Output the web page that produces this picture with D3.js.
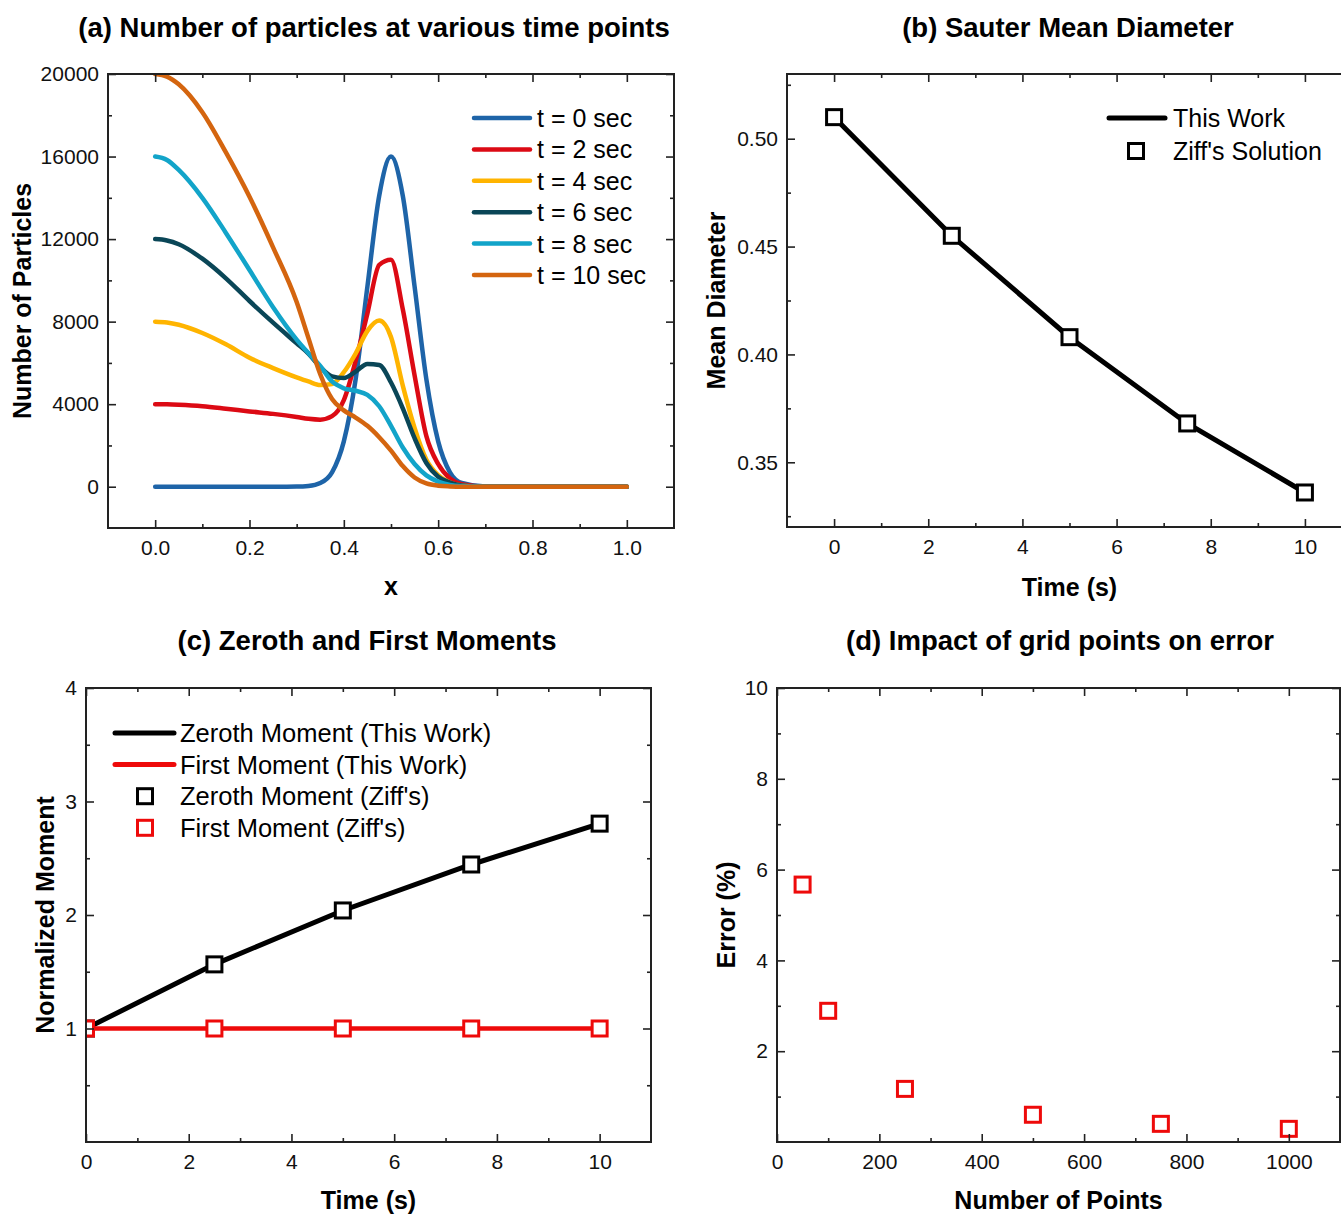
<!DOCTYPE html>
<html>
<head>
<meta charset="utf-8">
<script src="https://cdn.jsdelivr.net/npm/d3@7"></script>
<style>
body{margin:0;background:#fff;}
svg{display:block;}
</style>
</head>
<body>
<div id="chart"></div>
<script>
// (a) particle number vs x
const xGrid = [0, 0.025, 0.05, 0.1, 0.15, 0.2, 0.25, 0.3, 0.325, 0.35, 0.375, 0.4, 0.425, 0.45, 0.475, 0.5, 0.525, 0.55, 0.575, 0.6, 0.625, 0.65, 0.7, 0.8, 1.0];
const nT0  = [0, 0, 0, 0, 0, 0, 0, 5, 35, 180, 700, 2200, 5200, 9700, 14100, 16000, 14100, 9700, 5200, 2200, 700, 180, 5, 0, 0];
const nT2  = [4000, 3992, 3970, 3900, 3780, 3650, 3530, 3380, 3290, 3250, 3420, 4200, 6100, 8400, 10750, 11000, 8600, 5400, 2450, 1100, 400, 120, 0, 0, 0];
const nT4  = [8000, 7962, 7850, 7450, 6900, 6250, 5750, 5300, 5100, 4930, 4980, 5550, 6450, 7550, 8050, 7250, 4900, 2850, 1310, 560, 200, 60, 0, 0, 0];
const nT6  = [12000, 11935, 11750, 11050, 10100, 9000, 7950, 6950, 6450, 5800, 5350, 5270, 5580, 5950, 5900, 5050, 3800, 2350, 1150, 480, 200, 60, 0, 0, 0];
const nT8  = [16000, 15835, 15350, 14000, 12300, 10500, 8700, 7130, 6470, 5850, 5100, 4770, 4650, 4450, 3900, 2950, 1900, 1100, 550, 250, 90, 30, 0, 0, 0];
const nT10 = [20000, 19875, 19500, 18150, 16200, 14050, 11600, 8950, 7200, 5450, 4250, 3700, 3350, 2950, 2400, 1750, 1000, 450, 160, 50, 15, 0, 0, 0, 0];
const timeLabels = ["t = 0 sec", "t = 2 sec", "t = 4 sec", "t = 6 sec", "t = 8 sec", "t = 10 sec"];
const timeColors = ["#1e64a8", "#dc0a14", "#ffb400", "#0a4657", "#12a4c9", "#d4650f"];

// (b) sauter mean diameter
const timeB = [0, 2.5, 5, 7.5, 10];
const sauter = [0.510, 0.455, 0.408, 0.368, 0.336];

// (c) moments
const timeC = [0, 2.5, 5, 7.5, 10];
const zerothMoment = [1.0, 1.565, 2.04, 2.445, 2.805];
const firstMoment = [1.0, 1.0, 1.0, 1.0, 1.0];

// (d) error vs grid points
const gridPoints = [50, 100, 250, 500, 750, 1000];
const errorPct = [5.67, 2.89, 1.17, 0.6, 0.4, 0.29];

var FONT = "'Liberation Sans', Arial, Helvetica, sans-serif";

var svg = d3.select("#chart").append("svg")
    .attr("width", 1341)
    .attr("height", 1214)
    .style("font-family", FONT);

svg.append("rect").attr("width", 1341).attr("height", 1214).attr("fill", "#fff");

//set up one panel: scales, clip and the framed axes
function makePanel(p){
    var g = svg.append("g").attr("transform", "translate(" + p.left + "," + p.top + ")");
    var x = d3.scaleLinear().domain(p.xDomain).range([0, p.w]);
    var y = d3.scaleLinear().domain(p.yDomain).range([p.h, 0]);

    g.append("clipPath").attr("id", "clip-" + p.id)
        .append("rect").attr("width", p.w).attr("height", p.h);
    var plot = g.append("g").attr("clip-path", "url(#clip-" + p.id + ")");
    var frame = g.append("g");

    //minor ticks, all four sides, pointing in
    frame.append("g").attr("transform", "translate(0," + p.h + ")")
        .call(d3.axisBottom(x).tickValues(p.xMinor).tickSize(-4).tickFormat(""));
    frame.append("g")
        .call(d3.axisTop(x).tickValues(p.xMinor).tickSize(-4).tickFormat(""));
    frame.append("g")
        .call(d3.axisLeft(y).tickValues(p.yMinor).tickSize(-4).tickFormat(""));
    frame.append("g").attr("transform", "translate(" + p.w + ",0)")
        .call(d3.axisRight(y).tickValues(p.yMinor).tickSize(-4).tickFormat(""));

    //major ticks
    frame.append("g").attr("transform", "translate(0," + p.h + ")")
        .call(d3.axisBottom(x).tickValues(p.xMajor).tickSize(-8).tickPadding(12).tickFormat(p.xFormat));
    frame.append("g")
        .call(d3.axisTop(x).tickValues(p.xMajor).tickSize(-8).tickFormat(""));
    frame.append("g")
        .call(d3.axisLeft(y).tickValues(p.yMajor).tickSize(-8).tickPadding(9).tickFormat(p.yFormat));
    frame.append("g").attr("transform", "translate(" + p.w + ",0)")
        .call(d3.axisRight(y).tickValues(p.yMajor).tickSize(-8).tickFormat(""));

    frame.selectAll(".domain").remove();
    frame.selectAll(".tick line").attr("stroke", "#222").attr("stroke-width", 1.6);
    frame.selectAll(".tick text")
        .attr("font-size", 21)
        .attr("font-family", FONT)
        .attr("fill", "#111");

    frame.append("rect")
        .attr("width", p.w)
        .attr("height", p.h)
        .attr("fill", "none")
        .attr("stroke", "#222")
        .attr("stroke-width", 2);

    //title and axis labels
    svg.append("text")
        .attr("x", p.titleX).attr("y", p.titleY)
        .attr("text-anchor", "middle")
        .attr("font-size", 27.5).attr("font-weight", "bold")
        .text(p.title);
    svg.append("text")
        .attr("x", p.left + x(p.xLabelAt)).attr("y", p.xLabelY)
        .attr("text-anchor", "middle")
        .attr("font-size", 25).attr("font-weight", "bold")
        .text(p.xLabel);
    svg.append("text")
        .attr("transform", "translate(" + p.yLabelX + "," + (p.top + p.h / 2) + ") rotate(-90)")
        .attr("text-anchor", "middle")
        .attr("font-size", 25).attr("font-weight", "bold")
        .text(p.yLabel);

    return {g: g, plot: plot, x: x, y: y};
}

function squares(sel, data, x, y, color){
    sel.selectAll(null)
        .data(data)
        .enter()
        .append("rect")
        .attr("x", d => x(d[0]) - 7.5)
        .attr("y", d => y(d[1]) - 7.5)
        .attr("width", 15)
        .attr("height", 15)
        .attr("fill", "#fff")
        .attr("stroke", color)
        .attr("stroke-width", 3);
}

// ---------- (a)
var A = makePanel({
    id: "a", left: 108, top: 74, w: 566, h: 454,
    xDomain: [-0.1, 1.1], yDomain: [-2000, 20000],
    xMajor: [0, 0.2, 0.4, 0.6, 0.8, 1.0], xMinor: [0.1, 0.3, 0.5, 0.7, 0.9],
    yMajor: [0, 4000, 8000, 12000, 16000, 20000], yMinor: [2000, 6000, 10000, 14000, 18000],
    xFormat: d3.format(".1f"), yFormat: d3.format("d"),
    title: "(a) Number of particles at various time points", titleX: 374, titleY: 37,
    xLabel: "x", xLabelAt: 0.5, xLabelY: 595,
    yLabel: "Number of Particles", yLabelX: 31
});

var seriesA = [nT0, nT2, nT4, nT6, nT8, nT10];
var lineA = d3.line()
    .x((d, i) => A.x(xGrid[i]))
    .y(d => A.y(d))
    .curve(d3.curveMonotoneX);

A.plot.selectAll(".curve")
    .data(seriesA)
    .enter()
    .append("path")
    .attr("class", "curve")
    .attr("d", d => lineA(d))
    .attr("fill", "none")
    .attr("stroke", (d, i) => timeColors[i])
    .attr("stroke-width", 4.5)
    .attr("stroke-linecap", "round");

var legA = svg.append("g");
legA.selectAll("line")
    .data(timeLabels)
    .enter()
    .append("line")
    .attr("x1", 474).attr("x2", 530)
    .attr("y1", (d, i) => 118 + i * 31.4)
    .attr("y2", (d, i) => 118 + i * 31.4)
    .attr("stroke", (d, i) => timeColors[i])
    .attr("stroke-width", 4.5)
    .attr("stroke-linecap", "round");
legA.selectAll("text")
    .data(timeLabels)
    .enter()
    .append("text")
    .attr("x", 537)
    .attr("y", (d, i) => 127 + i * 31.4)
    .attr("font-size", 25)
    .text(d => d);

// ---------- (b)
var B = makePanel({
    id: "b", left: 787, top: 74, w: 565, h: 453,
    xDomain: [-1, 11], yDomain: [0.32, 0.53],
    xMajor: [0, 2, 4, 6, 8, 10], xMinor: [1, 3, 5, 7, 9],
    yMajor: [0.35, 0.40, 0.45, 0.50], yMinor: [0.325, 0.375, 0.425, 0.475, 0.525],
    xFormat: d3.format("d"), yFormat: d3.format(".2f"),
    title: "(b) Sauter Mean Diameter", titleX: 1068, titleY: 37,
    xLabel: "Time (s)", xLabelAt: 5, xLabelY: 596,
    yLabel: "Mean Diameter", yLabelX: 725
});

var ptsB = timeB.map((t, i) => [t, sauter[i]]);
B.plot.append("path")
    .attr("d", d3.line().x(d => B.x(d[0])).y(d => B.y(d[1]))(ptsB))
    .attr("fill", "none")
    .attr("stroke", "#000")
    .attr("stroke-width", 5);
squares(B.plot, ptsB, B.x, B.y, "#000");

svg.append("line")
    .attr("x1", 1109).attr("x2", 1165).attr("y1", 118).attr("y2", 118)
    .attr("stroke", "#000").attr("stroke-width", 5).attr("stroke-linecap", "round");
svg.append("rect")
    .attr("x", 1128.5).attr("y", 143.5).attr("width", 15).attr("height", 15)
    .attr("fill", "#fff").attr("stroke", "#000").attr("stroke-width", 3);
svg.append("text").attr("x", 1173).attr("y", 127).attr("font-size", 25).text("This Work");
svg.append("text").attr("x", 1173).attr("y", 160).attr("font-size", 25).text("Ziff's Solution");

// ---------- (c)
var C = makePanel({
    id: "c", left: 86, top: 688, w: 565, h: 454,
    xDomain: [0, 11], yDomain: [0, 4],
    xMajor: [0, 2, 4, 6, 8, 10], xMinor: [1, 3, 5, 7, 9],
    yMajor: [1, 2, 3, 4], yMinor: [0.5, 1.5, 2.5, 3.5],
    xFormat: d3.format("d"), yFormat: d3.format("d"),
    title: "(c) Zeroth and First Moments", titleX: 367, titleY: 650,
    xLabel: "Time (s)", xLabelAt: 5.5, xLabelY: 1209,
    yLabel: "Normalized Moment", yLabelX: 54
});

var ptsZero = timeC.map((t, i) => [t, zerothMoment[i]]);
var ptsFirst = timeC.map((t, i) => [t, firstMoment[i]]);
var lineC = d3.line().x(d => C.x(d[0])).y(d => C.y(d[1]));
C.plot.append("path").attr("d", lineC(ptsZero))
    .attr("fill", "none").attr("stroke", "#000").attr("stroke-width", 5);
C.plot.append("path").attr("d", lineC(ptsFirst))
    .attr("fill", "none").attr("stroke", "#ee0a0a").attr("stroke-width", 4.5);
squares(C.plot, ptsZero, C.x, C.y, "#000");
squares(C.plot, ptsFirst, C.x, C.y, "#ee0a0a");

var legC = [
    {label: "Zeroth Moment (This Work)", color: "#000", kind: "line"},
    {label: "First Moment (This Work)", color: "#ee0a0a", kind: "line"},
    {label: "Zeroth Moment (Ziff's)", color: "#000", kind: "square"},
    {label: "First Moment (Ziff's)", color: "#ee0a0a", kind: "square"}
];
legC.forEach(function(d, i){
    var cy = 733 + i * 31.6;
    if (d.kind == "line") {
        svg.append("line").attr("x1", 115).attr("x2", 174).attr("y1", cy).attr("y2", cy)
            .attr("stroke", d.color).attr("stroke-width", 5).attr("stroke-linecap", "round");
    } else {
        svg.append("rect").attr("x", 137.5).attr("y", cy - 7.5).attr("width", 15).attr("height", 15)
            .attr("fill", "#fff").attr("stroke", d.color).attr("stroke-width", 3);
    }
    svg.append("text").attr("x", 180).attr("y", cy + 9).attr("font-size", 25.5).text(d.label);
});

// ---------- (d)
var D = makePanel({
    id: "d", left: 777, top: 688, w: 563, h: 454,
    xDomain: [0, 1100], yDomain: [0, 10],
    xMajor: [0, 200, 400, 600, 800, 1000], xMinor: [100, 300, 500, 700, 900],
    yMajor: [2, 4, 6, 8, 10], yMinor: [1, 3, 5, 7, 9],
    xFormat: d3.format("d"), yFormat: d3.format("d"),
    title: "(d) Impact of grid points on error", titleX: 1060, titleY: 650,
    xLabel: "Number of Points", xLabelAt: 550, xLabelY: 1209,
    yLabel: "Error (%)", yLabelX: 735
});

squares(D.plot, gridPoints.map((g, i) => [g, errorPct[i]]), D.x, D.y, "#ee0a0a");
</script>
</body>
</html>
